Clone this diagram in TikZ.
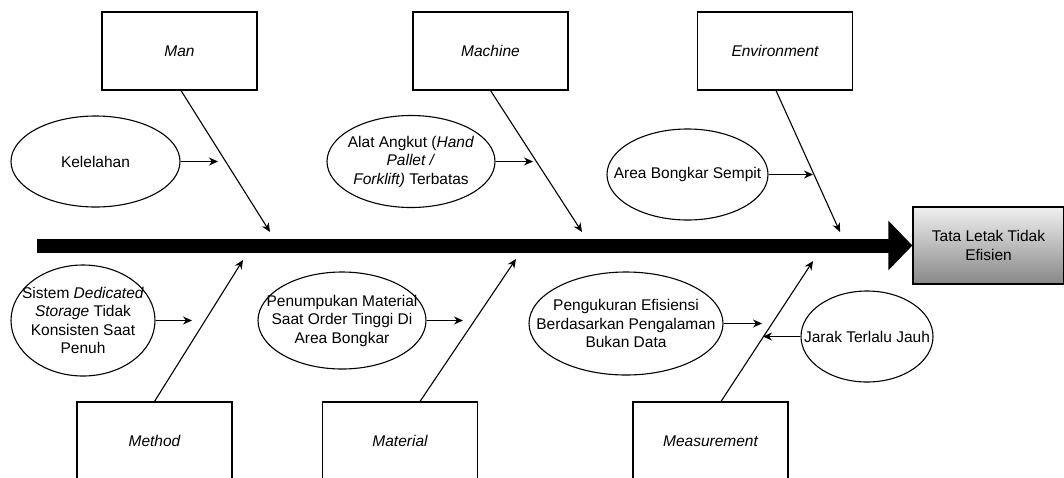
\documentclass[tikz,border=0pt]{standalone}
\usepackage{fontspec}
\setmainfont{Liberation Sans}
\usetikzlibrary{arrows.meta, shapes.geometric, positioning, calc}

\newcommand{\fishfont}{\fontsize{15.5}{18.5}\selectfont}

\begin{document}
\begin{tikzpicture}[x=1pt, y=-1pt, >={Stealth[length=9pt,width=8pt]}, line width=1.1pt,
    category/.style={draw, rectangle, minimum width=155pt, minimum height=78pt, font=\fishfont\itshape},
    cause/.style={draw, ellipse, inner sep=0pt},
    causetext/.style={font=\fishfont, align=center},
    effect/.style={draw, rectangle, minimum width=151pt, minimum height=77pt, top color=black!6, bottom color=black!47, align=center, font=\fishfont},
    spine/.style={line width=14pt, -{Triangle[length=24pt,width=48pt]}}]

  \useasboundingbox (0,0) rectangle (1064,477);

  % categories
  \node[category] (man) at (179.5,51) {Man};
  \node[category] (machine) at (490.5,51) {Machine};
  \node[category] (environment) at (775,51) {Environment};
  \node[category] (method) at (154.5,441) {Method};
  \node[category] (material) at (400,441) {Material};
  \node[category] (measurement) at (710.5,441) {Measurement};

  % head and spine
  \node[effect] (effect) at (988.5,245.5) {Tata Letak Tidak\\Efisien};
  \coordinate (tail) at (37,245.5);
  \draw[spine] (tail) -- (effect.west);

  % bones
  \coordinate (manTip) at (270,232);
  \coordinate (machineTip) at (582,232);
  \coordinate (environmentTip) at (840,232);
  \coordinate (methodTip) at (243,260);
  \coordinate (materialTip) at (516,259);
  \coordinate (measurementTip) at (813,261);

  \path[->]
    ([xshift=1.5pt]man.south) edge (manTip)
    (machine.south) edge (machineTip)
    ([xshift=1pt]environment.south) edge (environmentTip)
    (method.north) edge (methodTip)
    ([xshift=20pt]material.north) edge (materialTip)
    ([xshift=10.5pt]measurement.north) edge (measurementTip);

  % causes
  \node[cause, minimum width=169pt, minimum height=91pt,
    label={[causetext]center:{Kelelahan}}] (kelelahan) at (95.5,161.5) {};
  \node[cause, minimum width=168pt, minimum height=92pt,
    label={[causetext]center:{Alat Angkut (\textit{Hand}\\\textit{Pallet /}\\\textit{Forklift)} Terbatas}}] (alat) at (411,161.5) {};
  \node[cause, minimum width=161pt, minimum height=91pt,
    label={[causetext]center:{Area Bongkar Sempit}}] (area) at (687.5,174.5) {};
  \node[cause, minimum width=144pt, minimum height=111pt,
    label={[causetext]center:{Sistem \textit{Dedicated}\\\textit{Storage} Tidak\\Konsisten Saat\\Penuh}}] (sistem) at (83,320.5) {};
  \node[cause, minimum width=168pt, minimum height=97pt,
    label={[causetext]center:{Penumpukan Material\\Saat Order Tinggi Di\\Area Bongkar}}] (penumpukan) at (342,320.5) {};
  \node[cause, minimum width=194pt, minimum height=103pt,
    label={[causetext]center:{Pengukuran Efisiensi\\Berdasarkan Pengalaman\\Bukan Data}}] (pengukuran) at (626,323.5) {};
  \node[cause, minimum width=132pt, minimum height=91pt,
    label={[causetext]center:{Jarak Terlalu Jauh}}] (jarak) at (867,336.5) {};

  \coordinate (kelelahanEnd) at (218,161.5);
  \coordinate (alatEnd) at (533,161.5);
  \coordinate (areaEnd) at (813,174.5);
  \coordinate (sistemEnd) at (192,320.5);
  \coordinate (penumpukanEnd) at (463,320.5);
  \coordinate (pengukuranEnd) at (762,323.5);
  \coordinate (jarakEnd) at (763,336.5);

  \path[->]
    (kelelahan) edge (kelelahanEnd)
    (alat) edge (alatEnd)
    (area) edge (areaEnd)
    (sistem) edge (sistemEnd)
    (penumpukan) edge (penumpukanEnd)
    (pengukuran) edge (pengukuranEnd)
    (jarak) edge (jarakEnd);

\end{tikzpicture}
\end{document}
